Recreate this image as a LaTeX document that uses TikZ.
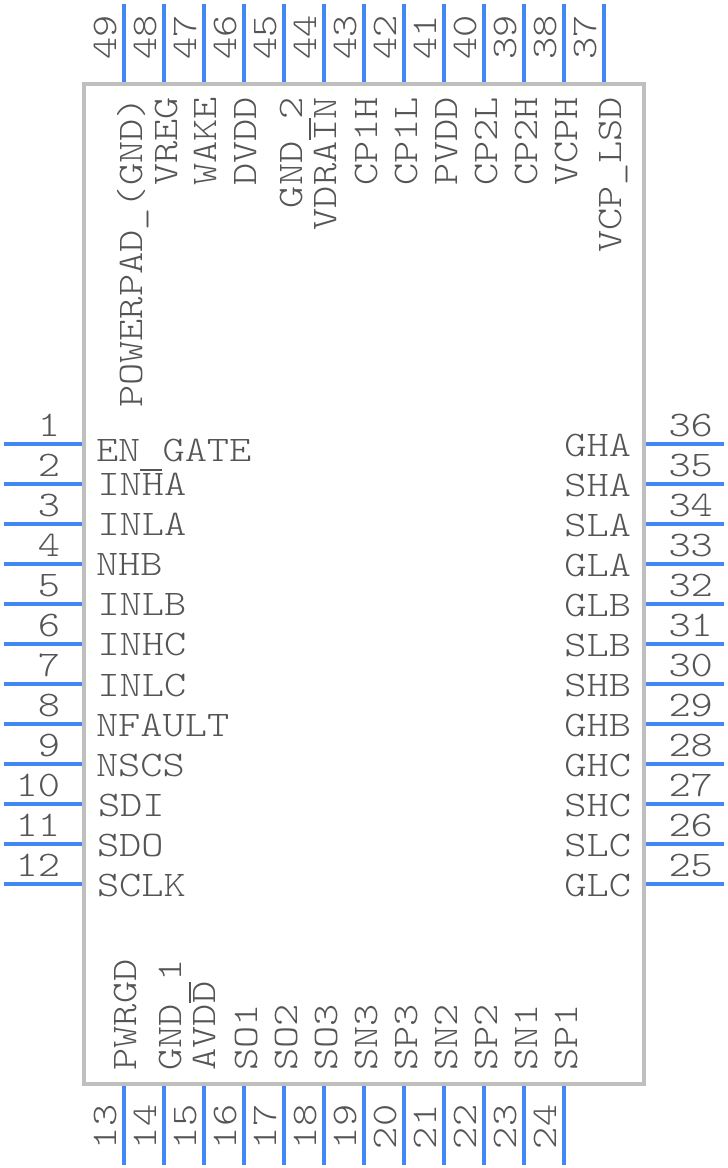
\documentclass[tikz,border=0pt]{standalone}
\usepackage{fontspec}
\setmonofont[FakeStretch=1.175]{Latin Modern Mono Light}
\definecolor{pinblue}{HTML}{4287F5}
\definecolor{boxgrey}{HTML}{BFBFBF}
\definecolor{txtgrey}{HTML}{555555}
\tikzset{
  pinline/.style={draw=pinblue,line width=4pt},
  body/.style={draw=boxgrey,line width=4pt},
  lab/.style={inner sep=0pt,outer sep=0pt,text=txtgrey,font=\fontsize{36}{36}\selectfont\ttfamily},
  bar/.style={draw=txtgrey,line width=1.6pt}
}
\begin{document}
\begin{tikzpicture}[x=1pt,y=-1pt]
\useasboundingbox (0,0) rectangle (728,1168);
\draw[body] (84,84) rectangle (644,1084);
% left
\foreach \n/\t/\lx/\by in {1/EN GATE/96/461,2/INHA/97.5/495,3/INLA/97.5/535,4/NHB/96/575,5/INLB/97.5/615,6/INHC/97.5/655,7/INLC/97.5/696,8/NFAULT/96/736,9/NSCS/96/776,10/SDI/98/816,11/SDO/97/856,12/SCLK/97/896}{
  \pgfmathsetmacro\py{444+40*(\n-1)}
  \draw[pinline] (3.5,\py) -- (82,\py);
  \node[lab,anchor=base east] (pl\n) at (60,\py-8) {\n};
  \node[lab,anchor=base west] (tl\n) at (\lx,\by) {\t};
}
% right
\foreach \n/\t/\by in {36/GHA/456,35/SHA/496,34/SLA/536,33/GLA/576,32/GLB/616,31/SLB/656,30/SHB/696,29/GHB/736,28/GHC/776,27/SHC/816,26/SLC/856,25/GLC/896}{
  \pgfmathsetmacro\py{444+40*(36-\n)}
  \draw[pinline] (646,\py) -- (724,\py);
  \node[lab,anchor=base west] (pr\n) at (668.5,\py-8) {\n};
  \node[lab,anchor=base east] (tr\n) at (631,\by) {\t};
}
% top
\foreach \n/\t/\bx in {48/VREG/177,47/WAKE/216,46/DVDD/256,45/GND 2/302,44/VDRAIN/336,43/CP1H/377,42/CP1L/417,41/PVDD/457,40/CP2L/497,39/CP2H/537,38/VCPH/577,37/VCP\_LSD/621}{
  \node[lab,rotate=90,anchor=base east] (tt\n) at (\bx,97) {\t};
}
\node[lab,rotate=90,anchor=base east] (tt49) at (142,97) {POWERPAD\_(GND)};
\foreach \n in {49,48,...,37}{
  \pgfmathsetmacro\px{124+40*(49-\n)}
  \draw[pinline] (\px,3.5) -- (\px,82);
  \node[lab,rotate=90,anchor=base east] (pt\n) at (\px-8,15) {\n};
}
% bottom
\foreach \n/\t/\bx in {13/PWRGD/136,14/GND 1/181,15/AVDD/215,16/SO1/257,17/SO2/297,18/SO3/337,19/SN3/377,20/SP3/417,21/SN2/457,22/SP2/497,23/SN1/537,24/SP1/577}{
  \pgfmathsetmacro\px{124+40*(\n-13)}
  \draw[pinline] (\px,1086) -- (\px,1164.5);
  \node[lab,rotate=90,anchor=base west] (tb\n) at (\bx,1070.5) {\t};
  \node[lab,rotate=90,anchor=base west] (pb\n) at (\px-8,1149) {\n};
}
% overbars
\draw[bar] (140,470) -- (162,470);
\draw[bar] (310,118) -- (310,140);
\draw[bar] (190,982) -- (190,1003);
\end{tikzpicture}
\end{document}
